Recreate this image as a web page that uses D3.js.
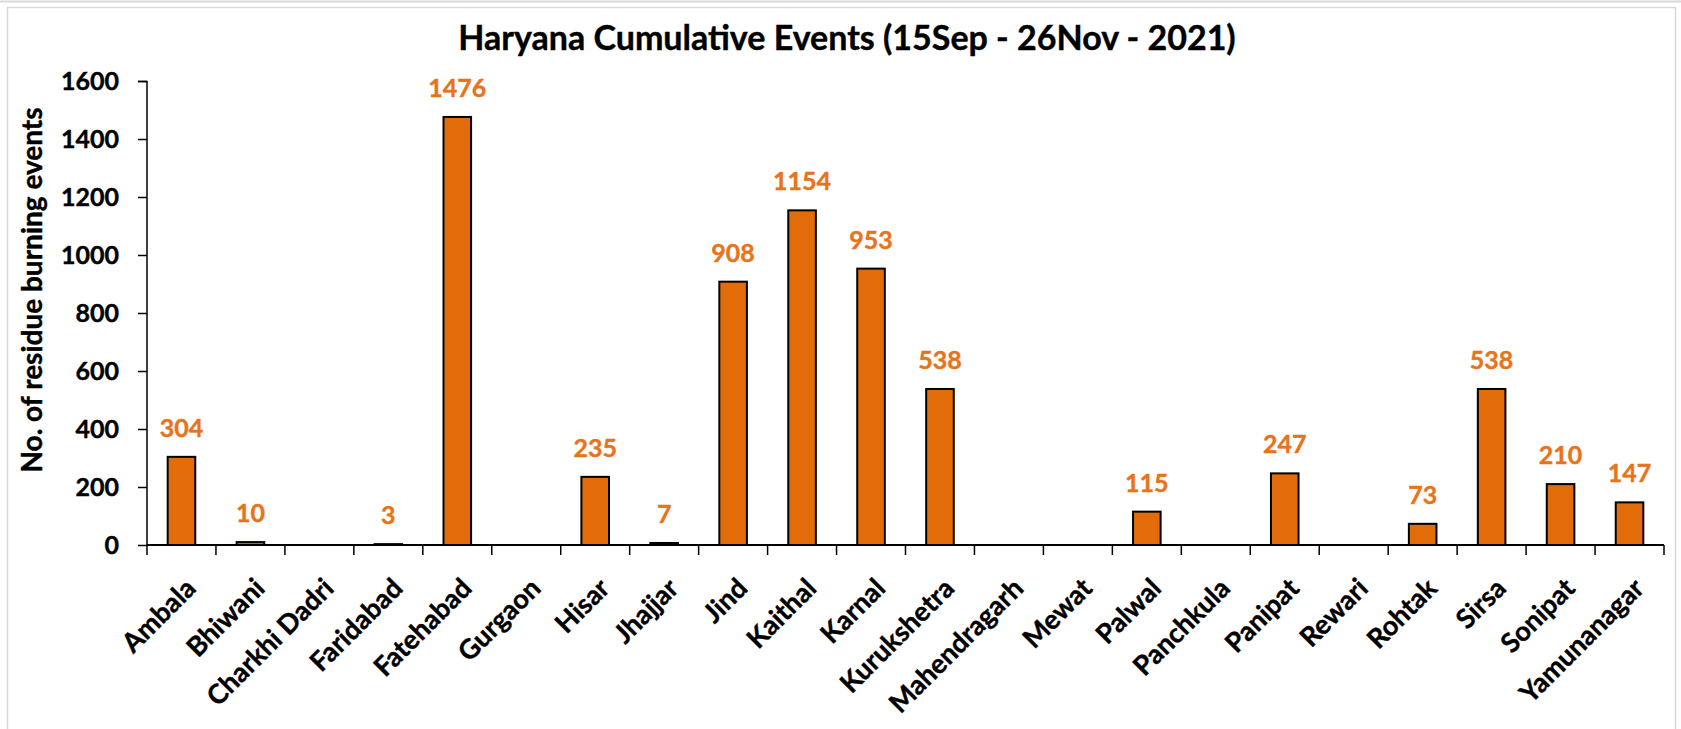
<!DOCTYPE html>
<html>
<head>
<meta charset="utf-8">
<script src="https://cdn.jsdelivr.net/npm/d3@7"></script>
<style>
  body { margin: 0; background: #fff; }
  text { font-family: Lato, "Open Sans", sans-serif; font-weight: bold; stroke-width: 0.4px; }
</style>
</head>
<body>
<script>
const districts = ["Ambala", "Bhiwani", "Charkhi Dadri", "Faridabad", "Fatehabad", "Gurgaon",
    "Hisar", "Jhajjar", "Jind", "Kaithal", "Karnal", "Kurukshetra", "Mahendragarh", "Mewat",
    "Palwal", "Panchkula", "Panipat", "Rewari", "Rohtak", "Sirsa", "Sonipat", "Yamunanagar"]
const events = [304, 10, 0, 3, 1476, 0, 235, 7, 908, 1154, 953, 538, 0, 0, 115, 0, 247, 0, 73, 538, 210, 147]
const yTicks = [0, 200, 400, 600, 800, 1000, 1200, 1400, 1600]

const width = 1681, height = 729
const margin = {top: 81, right: 17, bottom: 184, left: 147}
const innerW = width - margin.left - margin.right,
      innerH = height - margin.top - margin.bottom

const svg = d3.select("body").append("svg")
    .attr("width", width)
    .attr("height", height)

// chart area border
svg.append("line")
    .attr("x1", 0).attr("x2", width).attr("y1", 1.5).attr("y2", 1.5)
    .style("stroke", "#d9d9d9").style("stroke-width", 2)
svg.append("rect")
    .attr("x", 7.5).attr("y", 7.5)
    .attr("width", width - 13).attr("height", height)
    .style("fill", "none").style("stroke", "#d9d9d9").style("stroke-width", 1.5)

svg.append("text")
    .attr("x", 847).attr("y", 50)
    .attr("text-anchor", "middle")
    .style("font-size", "34px")
    .style("stroke", "#000")
    .text("Haryana Cumulative Events (15Sep - 26Nov - 2021)")

const g = svg.append("g").attr("transform", `translate(${margin.left}, ${margin.top})`)

const x = d3.scaleBand()
    .domain(districts)
    .range([0, innerW])
    .paddingInner(0.6)
    .paddingOuter(0.3)

const y = d3.scaleLinear()
    .domain([0, 1600])
    .range([innerH, 0])

// y axis
const yAxis = g.append("g")
    .call(d3.axisLeft(y).tickValues(yTicks).tickFormat(d3.format("d")).tickSize(9).tickPadding(19))
yAxis.selectAll("path, line").style("stroke", "#000").style("stroke-width", 1.5)
yAxis.selectAll("text").style("font-size", "25px").style("fill", "#000").style("stroke", "#000")
yAxis.select(".domain").attr("d", `M-9,0.5H0V${innerH}`)

g.append("text")
    .attr("transform", "rotate(-90)")
    .attr("x", -(290 - margin.top))
    .attr("y", -105)
    .attr("text-anchor", "middle")
    .style("font-size", "28px")
    .style("stroke", "#000")
    .text("No. of residue burning events")

// bars
g.selectAll("rect.bar")
    .data(events)
    .enter()
    .append("rect")
    .attr("class", "bar")
    .attr("x", (d, i) => x(districts[i]))
    .attr("y", d => y(d))
    .attr("width", x.bandwidth())
    .attr("height", d => innerH - y(d))
    .style("fill", "#e36c0a")
    .style("stroke", "#000")
    .style("stroke-width", 2)

// data labels (non-zero only)
g.selectAll("text.lbl")
    .data(events.map((v, i) => ({v, name: districts[i]})).filter(d => d.v > 0))
    .enter()
    .append("text")
    .attr("class", "lbl")
    .attr("x", d => x(d.name) + x.bandwidth() / 2)
    .attr("y", d => y(d.v) - 20)
    .attr("text-anchor", "middle")
    .style("font-size", "25px")
    .style("fill", "#e8731a")
    .style("stroke", "#e8731a")
    .text(d => d.v)

// x axis with ticks at category boundaries
const step = x.step()
const xAxis = g.append("g").attr("transform", `translate(0, ${innerH})`)
xAxis.append("line")
    .attr("x1", 0).attr("x2", innerW)
    .style("stroke", "#000").style("stroke-width", 2)
xAxis.selectAll("line.tk")
    .data(d3.range(districts.length + 1))
    .enter()
    .append("line")
    .attr("class", "tk")
    .attr("x1", i => i * step).attr("x2", i => i * step)
    .attr("y1", 0).attr("y2", 10)
    .style("stroke", "#000").style("stroke-width", 1.5)
xAxis.selectAll("text")
    .data(districts)
    .enter()
    .append("text")
    .attr("transform", d => `translate(${x(d) + x.bandwidth() / 2 + 16}, 45) rotate(-45)`)
    .attr("text-anchor", "end")
    .style("font-size", "27px")
    .style("stroke", "#000")
    .text(d => d)
</script>
</body>
</html>
